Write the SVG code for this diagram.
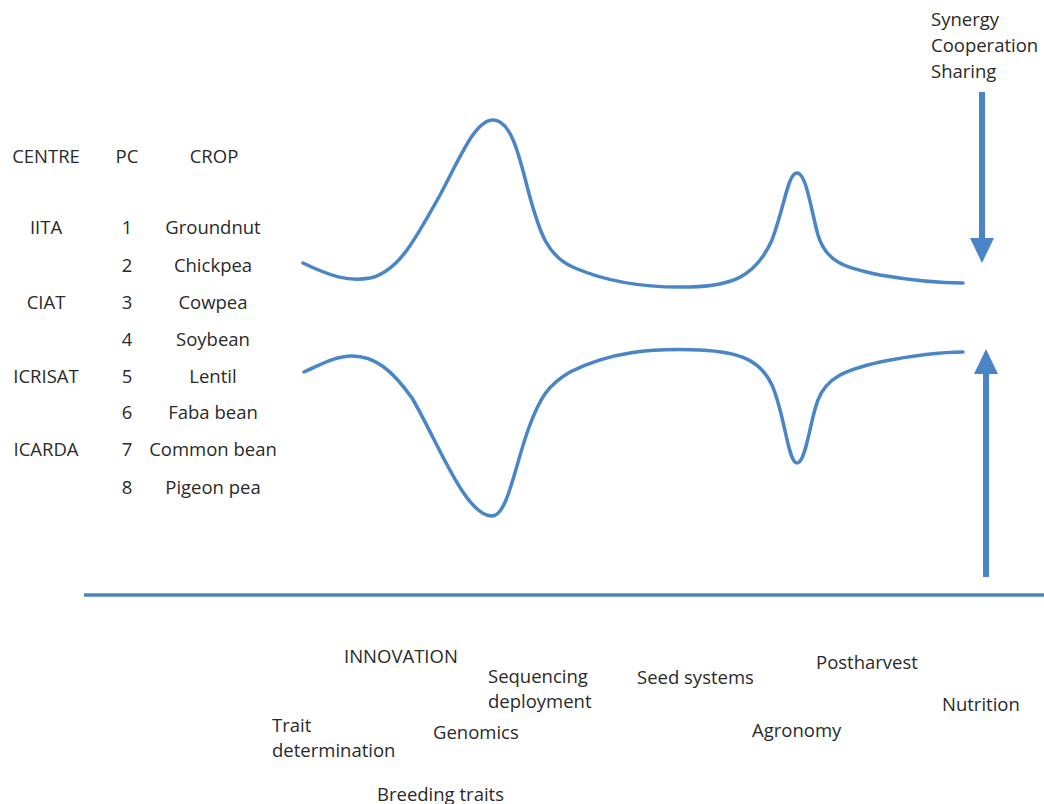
<svg xmlns="http://www.w3.org/2000/svg" width="1044" height="804" viewBox="0 0 1044 804">
<style>
text{font-family:"Open Sans","Noto Sans","Liberation Sans",sans-serif;font-size:18.5px;fill:#2a2a2a}
.c{text-anchor:middle}
.ln{fill:none;stroke:#4a86c6;stroke-width:3.5;stroke-linecap:round}
.ar{fill:#4a86c6}
</style>
<rect width="1044" height="804" fill="#fff"/>
<g id="table">
<text class="c" x="46" y="163">CENTRE</text>
<text class="c" x="127" y="163">PC</text>
<text class="c" x="214" y="163">CROP</text>
<text class="c" x="46" y="234">IITA</text>
<text class="c" x="46" y="309">CIAT</text>
<text class="c" x="46" y="383">ICRISAT</text>
<text class="c" x="46" y="456">ICARDA</text>
<text class="c" x="127" y="234">1</text>
<text class="c" x="127" y="272">2</text>
<text class="c" x="127" y="309">3</text>
<text class="c" x="127" y="346">4</text>
<text class="c" x="127" y="383">5</text>
<text class="c" x="127" y="419">6</text>
<text class="c" x="127" y="456">7</text>
<text class="c" x="127" y="494">8</text>
<text class="c" x="213" y="234">Groundnut</text>
<text class="c" x="213" y="272">Chickpea</text>
<text class="c" x="213" y="309">Cowpea</text>
<text class="c" x="213" y="346">Soybean</text>
<text class="c" x="213" y="383">Lentil</text>
<text class="c" x="213" y="419">Faba bean</text>
<text class="c" x="213" y="456">Common bean</text>
<text class="c" x="213" y="494">Pigeon pea</text>
</g>
<g id="top-label">
<text x="931" y="26">Synergy</text>
<text x="931" y="52">Cooperation</text>
<text x="931" y="78">Sharing</text>
</g>
<g id="connectors">
<path id="top-curve" class="ln" d="M303,263 C330,276 348,282 370,278 C398,272 415,240 440,195 C460,158 475,120 493,120 C510,120 518,150 528,190 C540,235 548,257 575,268 C610,283 650,288 690,287 C730,286 755,278 772,240 C785,205 788,173 797,173 C806,173 810,205 818,235 C826,262 845,268 880,275 C915,281 945,283 963,283"/>
<path id="bottom-curve" class="ln" d="M304,372 C320,365 335,356 352,356 C375,356 392,370 412,398 C437,440 465,516 492,516 C507,516 514,470 528,430 C540,397 548,385 570,372 C610,352 650,348 700,350 C740,352 760,360 772,385 C785,415 788,463 797,463 C806,463 810,420 818,400 C826,378 845,370 880,362 C915,355 945,352 963,352"/>
<line id="axis" x1="84" y1="595" x2="1044" y2="595" stroke="#4a86c6" stroke-width="3.5"/>
<g id="arrow-down">
<rect class="ar" x="979" y="92" width="6" height="148"/>
<polygon class="ar" points="970,238 994,238 982,263"/>
</g>
<g id="arrow-up">
<rect class="ar" x="983" y="372" width="6" height="205"/>
<polygon class="ar" points="974,374 998,374 986,349"/>
</g>
</g>
<g id="bottom-labels">
<text x="344" y="663">INNOVATION</text>
<text x="488" y="683">Sequencing</text>
<text x="488" y="708">deployment</text>
<text x="637" y="684">Seed systems</text>
<text x="816" y="669">Postharvest</text>
<text x="942" y="711">Nutrition</text>
<text x="752" y="737">Agronomy</text>
<text x="272" y="732">Trait</text>
<text x="272" y="757">determination</text>
<text x="433" y="739">Genomics</text>
<text x="377" y="801">Breeding traits</text>
</g>
</svg>
